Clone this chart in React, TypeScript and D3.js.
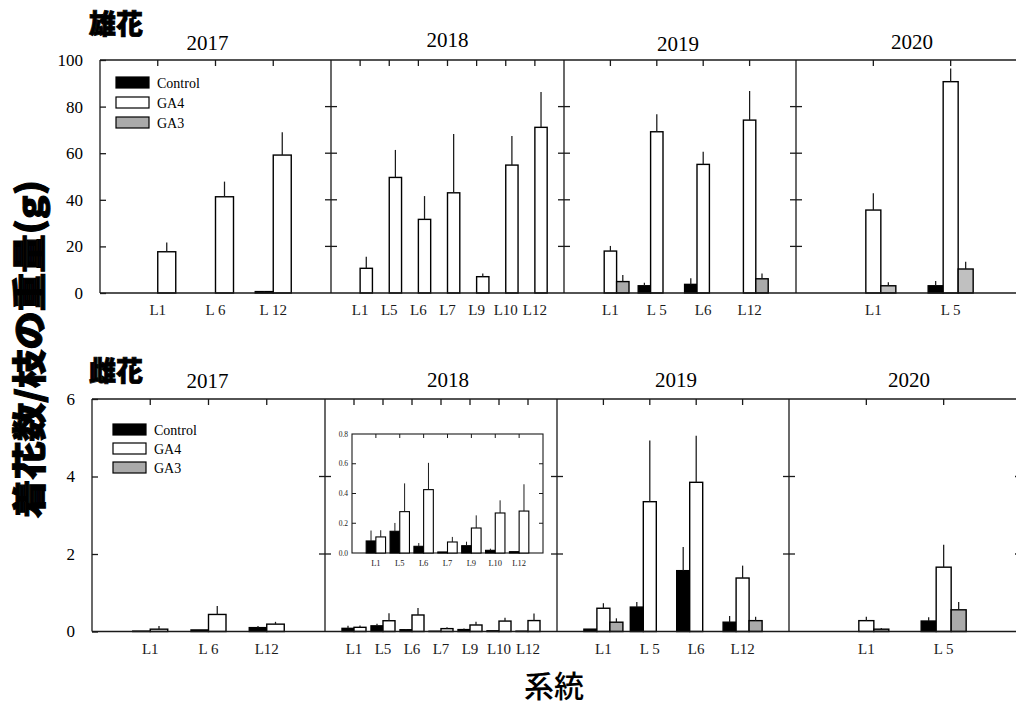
import React, { useEffect, useRef } from 'react';
import * as d3 from 'd3';

const years = ['2017', '2018', '2019', '2020'];
const seriesFill: Record<string, string> = { Control: '#000000', GA4: '#ffffff', GA3: '#aaaaaa' };
const legendKeys = ['Control', 'GA4', 'GA3'];

// 雄花 (top row)
const maleLabels2017 = ['L1', 'L 6', 'L 12'];
const maleControl2017 = [0, 0, 0.6];
const maleControlErr2017 = [0, 0, 0.3];
const maleGA4_2017 = [17.7, 41.3, 59.2];
const maleGA4Err2017 = [4.0, 6.5, 9.8];

const maleLabels2018 = ['L1', 'L5', 'L6', 'L7', 'L9', 'L10', 'L12'];
const maleControl2018 = [0, 0, 0, 0, 0, 0, 0];
const maleControlErr2018 = [0, 0, 0, 0, 0, 0, 0];
const maleGA4_2018 = [10.6, 49.6, 31.6, 43.0, 7.0, 54.9, 71.1];
const maleGA4Err2018 = [5.0, 11.8, 10.0, 25.2, 1.4, 12.5, 15.2];

const maleLabels2019 = ['L1', 'L 5', 'L6', 'L12'];
const maleControl2019 = [0, 3.1, 3.7, 0];
const maleControlErr2019 = [0, 1.3, 2.6, 0];
const maleGA4_2019 = [18.0, 69.2, 55.2, 74.2];
const maleGA4Err2019 = [2.2, 7.5, 5.4, 12.5];
const maleGA3_2019 = [4.9, 0, 0, 6.1];
const maleGA3Err2019 = [2.8, 0, 0, 2.3];

const maleLabels2020 = ['L1', 'L 5'];
const maleControl2020 = [0, 3.1];
const maleControlErr2020 = [0, 2.0];
const maleGA4_2020 = [35.6, 90.7];
const maleGA4Err2020 = [7.2, 5.7];
const maleGA3_2020 = [3.1, 10.3];
const maleGA3Err2020 = [1.5, 3.1];

// 雌花 (bottom row)
const femaleLabels2017 = ['L1', 'L 6', 'L12'];
const femaleControl2017 = [0.01, 0.04, 0.1];
const femaleControlErr2017 = [0, 0, 0.04];
const femaleGA4_2017 = [0.06, 0.44, 0.19];
const femaleGA4Err2017 = [0.08, 0.22, 0.06];

const femaleLabels2018 = ['L1', 'L5', 'L6', 'L7', 'L9', 'L10', 'L12'];
const femaleControl2018 = [0.081, 0.146, 0.045, 0.007, 0.049, 0.018, 0.009];
const femaleControlErr2018 = [0.07, 0.056, 0.022, 0, 0.027, 0.011, 0.004];
const femaleGA4_2018 = [0.108, 0.278, 0.426, 0.074, 0.168, 0.269, 0.282];
const femaleGA4Err2018 = [0.045, 0.19, 0.18, 0.034, 0.085, 0.085, 0.18];

const femaleLabels2019 = ['L1', 'L 5', 'L6', 'L12'];
const femaleControl2019 = [0.06, 0.63, 1.57, 0.24];
const femaleControlErr2019 = [0, 0.13, 0.61, 0.16];
const femaleGA4_2019 = [0.6, 3.35, 3.85, 1.38];
const femaleGA4Err2019 = [0.13, 1.58, 1.2, 0.32];
const femaleGA3_2019 = [0.24, 0, 0, 0.28];
const femaleGA3Err2019 = [0.1, 0, 0, 0.1];

const femaleLabels2020 = ['L1', 'L 5'];
const femaleControl2020 = [0, 0.27];
const femaleControlErr2020 = [0, 0.1];
const femaleGA4_2020 = [0.28, 1.66];
const femaleGA4Err2020 = [0.1, 0.58];
const femaleGA3_2020 = [0.06, 0.56];
const femaleGA3Err2020 = [0.03, 0.2];

const maleTicks = [0, 20, 40, 60, 80, 100];
const femaleTicks = [0, 2, 4, 6];
const insetTicks = [0, 0.2, 0.4, 0.6, 0.8];

interface Series { key: string; values: number[]; errs: number[] }
interface Panel { year: string; labels: string[]; series: Series[] }

const malePanels: Panel[] = [
  { year: years[0], labels: maleLabels2017, series: [
    { key: 'Control', values: maleControl2017, errs: maleControlErr2017 },
    { key: 'GA4', values: maleGA4_2017, errs: maleGA4Err2017 }] },
  { year: years[1], labels: maleLabels2018, series: [
    { key: 'Control', values: maleControl2018, errs: maleControlErr2018 },
    { key: 'GA4', values: maleGA4_2018, errs: maleGA4Err2018 }] },
  { year: years[2], labels: maleLabels2019, series: [
    { key: 'Control', values: maleControl2019, errs: maleControlErr2019 },
    { key: 'GA4', values: maleGA4_2019, errs: maleGA4Err2019 },
    { key: 'GA3', values: maleGA3_2019, errs: maleGA3Err2019 }] },
  { year: years[3], labels: maleLabels2020, series: [
    { key: 'Control', values: maleControl2020, errs: maleControlErr2020 },
    { key: 'GA4', values: maleGA4_2020, errs: maleGA4Err2020 },
    { key: 'GA3', values: maleGA3_2020, errs: maleGA3Err2020 }] },
];

const femalePanels: Panel[] = [
  { year: years[0], labels: femaleLabels2017, series: [
    { key: 'Control', values: femaleControl2017, errs: femaleControlErr2017 },
    { key: 'GA4', values: femaleGA4_2017, errs: femaleGA4Err2017 }] },
  { year: years[1], labels: femaleLabels2018, series: [
    { key: 'Control', values: femaleControl2018, errs: femaleControlErr2018 },
    { key: 'GA4', values: femaleGA4_2018, errs: femaleGA4Err2018 }] },
  { year: years[2], labels: femaleLabels2019, series: [
    { key: 'Control', values: femaleControl2019, errs: femaleControlErr2019 },
    { key: 'GA4', values: femaleGA4_2019, errs: femaleGA4Err2019 },
    { key: 'GA3', values: femaleGA3_2019, errs: femaleGA3Err2019 }] },
  { year: years[3], labels: femaleLabels2020, series: [
    { key: 'Control', values: femaleControl2020, errs: femaleControlErr2020 },
    { key: 'GA4', values: femaleGA4_2020, errs: femaleGA4Err2020 },
    { key: 'GA3', values: femaleGA3_2020, errs: femaleGA3Err2020 }] },
];

const SERIF = "'Liberation Serif', 'DejaVu Serif', serif";
const CJK = "'Noto Sans CJK JP', sans-serif";
const INK = '#1a1a1a';

interface RowLayout {
  x: number[]; yTop: number; yBase: number; max: number; ticks: number[];
  barW: number[]; titleDx: number[]; titleY: number[]; grey: string[];
}

type G = d3.Selection<SVGGElement, unknown, null, undefined>;

function line(g: G, x1: number, y1: number, x2: number, y2: number, w = 1.3) {
  g.append('line').attr('x1', x1).attr('y1', y1).attr('x2', x2).attr('y2', y2)
    .attr('stroke', INK).attr('stroke-width', w);
}

function drawBars(g: G, p: Panel, px: d3.ScalePoint<string>, y: d3.ScaleLinear<number, number>, bw: number, grey: string, sw: number) {
  const keys = p.series.map(s => s.key);
  const xs = d3.scaleBand().domain(keys).range([-bw * keys.length / 2, bw * keys.length / 2]);
  p.series.forEach(s => {
    p.labels.forEach((lab, j) => {
      const v = s.values[j];
      if (v <= 0) return;
      const bx = (px(lab) as number) + (xs(s.key) as number);
      g.append('rect').attr('x', bx).attr('y', y(v)).attr('width', xs.bandwidth())
        .attr('height', y(0) - y(v))
        .attr('fill', s.key === 'GA3' ? grey : seriesFill[s.key])
        .attr('stroke', '#000').attr('stroke-width', sw);
      const e = s.errs[j];
      if (e > 0) line(g, bx + xs.bandwidth() / 2, y(v), bx + xs.bandwidth() / 2, y(v + e), sw * 0.9);
    });
  });
}

function drawRow(root: G, panels: Panel[], L: RowLayout) {
  const g = root.append('g');
  const y = d3.scaleLinear().domain([0, L.max]).range([L.yBase, L.yTop]);
  const x0 = L.x[0];
  const xEnd = L.x[L.x.length - 1];
  const inner = L.ticks.filter(t => t > 0 && t < L.max);

  panels.forEach((p, i) => {
    const px = d3.scalePoint<string>().domain(p.labels).range([L.x[i], L.x[i + 1]]).padding(1);
    drawBars(g, p, px, y, L.barW[i], L.grey[i], 1.4);
    p.labels.forEach(lab => {
      line(g, px(lab) as number, L.yTop, px(lab) as number, L.yTop + 6);
      g.append('text').attr('x', px(lab) as number).attr('y', L.yBase + 22)
        .attr('text-anchor', 'middle').attr('font-family', SERIF).attr('font-size', 15)
        .attr('font-weight', 400).attr('fill', INK).text(lab);
    });
    g.append('text').attr('x', (L.x[i] + L.x[i + 1]) / 2 + L.titleDx[i]).attr('y', L.titleY[i])
      .attr('text-anchor', 'middle').attr('font-family', SERIF).attr('font-size', 21)
      .attr('font-weight', 400).attr('fill', '#000').text(p.year);
  });

  // frame
  line(g, x0, L.yTop, xEnd, L.yTop);
  line(g, x0, L.yBase, xEnd, L.yBase);
  L.x.forEach(xx => line(g, xx, L.yTop, xx, L.yBase));
  L.x.slice(1).forEach(xx => inner.forEach(t => line(g, xx - 6, y(t), xx + 6, y(t))));

  const ax = g.append('g').attr('transform', `translate(${x0},0)`)
    .call(d3.axisLeft(y).tickValues(L.ticks).tickSize(-6).tickPadding(17).tickFormat(d3.format('d')));
  ax.select('.domain').remove();
  ax.selectAll('line').attr('stroke', INK).attr('stroke-width', 1.3);
  ax.selectAll('text').attr('font-family', SERIF).attr('font-size', 17).attr('fill', '#000');
}

function drawLegend(root: G, x: number, y0: number, gap: number) {
  const g = root.append('g');
  legendKeys.forEach((k, i) => {
    g.append('rect').attr('x', x).attr('y', y0 + i * gap).attr('width', 33).attr('height', 11)
      .attr('fill', seriesFill[k]).attr('stroke', '#000').attr('stroke-width', 1.2);
    g.append('text').attr('x', x + 41).attr('y', y0 + i * gap + 10.5)
      .attr('font-family', SERIF).attr('font-size', 14).attr('fill', '#000').text(k);
  });
}

function drawInset(root: G, p: Panel) {
  const bx = 352, by = 434, bw = 191, bh = 119;
  const g = root.append('g');
  g.append('rect').attr('x', bx).attr('y', by).attr('width', bw).attr('height', bh)
    .attr('fill', '#fff').attr('stroke', INK).attr('stroke-width', 1.1);
  const y = d3.scaleLinear().domain([0, 0.8]).range([by + bh, by]);
  const px = d3.scalePoint<string>().domain(p.labels).range([bx, bx + bw]).padding(1);
  drawBars(g, p, px, y, 9.7, seriesFill.GA3, 1.1);
  p.labels.forEach(lab => {
    line(g, px(lab) as number, by, px(lab) as number, by + 4, 1);
    g.append('text').attr('x', px(lab) as number).attr('y', by + bh + 13)
      .attr('text-anchor', 'middle').attr('font-family', SERIF).attr('font-size', 8.5)
      .attr('fill', INK).text(lab);
  });
  insetTicks.forEach(t => {
    if (t > 0 && t < 0.8) {
      line(g, bx, y(t), bx + 4, y(t), 1);
      line(g, bx + bw - 4, y(t), bx + bw, y(t), 1);
    }
    g.append('text').attr('x', bx - 4).attr('y', y(t) + 2.5).attr('text-anchor', 'end')
      .attr('font-family', SERIF).attr('font-size', 7.5).attr('fill', INK).text(d3.format('.1f')(t));
  });
}

export default function App() {
  const ref = useRef<SVGSVGElement>(null);

  useEffect(() => {
    const svg = d3.select(ref.current);
    svg.selectAll('*').remove();
    const root = svg.append('g') as unknown as G;

    drawRow(root, malePanels, {
      x: [100, 331, 564, 796, 1028], yTop: 60, yBase: 293, max: 100, ticks: maleTicks,
      barW: [18, 12.3, 12.4, 15], titleDx: [-8, 0, -2, 0], titleY: [50, 47, 51, 49],
      grey: ['#aaaaaa', '#aaaaaa', '#aaaaaa', '#c0c0c0'],
    });
    drawRow(root, femalePanels, {
      x: [92, 325, 557, 789, 1021], yTop: 399, yBase: 631.5, max: 6, ticks: femaleTicks,
      barW: [17.5, 12, 13, 15], titleDx: [-1, 7, 3, 4], titleY: [388, 387, 387, 387],
      grey: ['#aaaaaa', '#aaaaaa', '#aaaaaa', '#aaaaaa'],
    });
    drawInset(root, femalePanels[1]);
    drawLegend(root, 116, 77, 20);
    drawLegend(root, 113, 424, 19);

    // panel tags and axis titles
    root.append('text').attr('x', 89).attr('y', 34).attr('font-family', CJK).attr('font-weight', 900)
      .attr('font-size', 27).attr('stroke', '#000').attr('stroke-width', 0.8).text('雄花');
    root.append('text').attr('x', 89).attr('y', 381).attr('font-family', CJK).attr('font-weight', 900)
      .attr('font-size', 27).attr('stroke', '#000').attr('stroke-width', 0.8).text('雌花');
    root.append('text').attr('transform', 'translate(42,349) rotate(-90)').attr('text-anchor', 'middle')
      .attr('font-family', CJK).attr('font-weight', 900).attr('font-size', 34)
      .attr('stroke', '#000').attr('stroke-width', 1)
      .attr('textLength', 338).attr('lengthAdjust', 'spacingAndGlyphs')
      .text('着花数/枝の重量(g)');
    root.append('text').attr('x', 554).attr('y', 697).attr('text-anchor', 'middle')
      .attr('font-family', CJK).attr('font-weight', 500).attr('font-size', 30).text('系統');
  }, []);

  return (
    <svg ref={ref} width={1016} height={708}
      style={{ position: 'absolute', left: 0, top: 0, background: '#fff' }} />
  );
}
